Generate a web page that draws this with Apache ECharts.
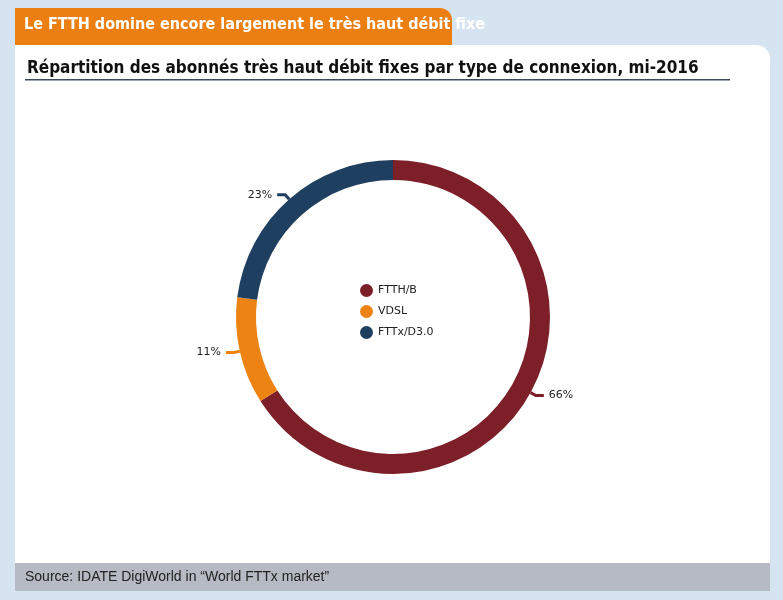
<!DOCTYPE html>
<html>
<head>
<meta charset="utf-8">
<script src="https://cdn.jsdelivr.net/npm/echarts@6/dist/echarts.min.js"></script>
<style>
  html, body { margin: 0; padding: 0; background: #d6e4f1; }
  #chart { width: 783px; height: 600px; }
</style>
</head>
<body>
<div id="chart"></div>
<script>
// données
const categories = ['FTTH/B', 'VDSL', 'FTTx/D3.0'];
const shares = [66, 11, 23];
const colors = ['#7c1f28', '#ec8312', '#1f3f60'];

const chart = echarts.init(document.getElementById('chart'));

const option = {
    backgroundColor: '#d6e4f1',
    graphic: [
        // onglet orange
        { type: 'rect', shape: { x: 15, y: 8, width: 437, height: 45, r: [0, 12, 0, 0] },
          style: { fill: '#ec7f12' } },
        { type: 'text', left: 24, top: 17,
          style: { text: 'Le FTTH domine encore largement le très haut débit fixe',
                   fill: '#fff', font: 'bold 16px "Liberation Sans Narrow", "DejaVu Sans Condensed", sans-serif' } },
        // panneau blanc
        { type: 'rect', shape: { x: 15, y: 45, width: 755, height: 520, r: [0, 14, 0, 0] },
          style: { fill: '#ffffff' } },
        { type: 'text', left: 27, top: 60,
          style: { text: 'Répartition des abonnés très haut débit fixes par type de connexion, mi-2016',
                   fill: '#111', font: 'bold 17px "Liberation Sans Narrow", "DejaVu Sans Condensed", sans-serif' } },
        { type: 'rect', shape: { x: 25, y: 79, width: 705, height: 1.5 },
          style: { fill: '#3c4a5c' } },
        // pied de page
        { type: 'rect', shape: { x: 15, y: 563, width: 755, height: 28 },
          style: { fill: '#b5bac5' } },
        { type: 'text', left: 25, top: 570,
          style: { text: 'Source: IDATE DigiWorld in “World FTTx market”',
                   fill: '#222', font: '14px "Liberation Sans", Arial, sans-serif' } }
    ],
    legend: {
        orient: 'vertical',
        left: 355,
        top: 279,
        icon: 'circle',
        itemWidth: 13,
        itemHeight: 13,
        itemGap: 8,
        textStyle: { fontSize: 11, color: '#222', fontFamily: 'DejaVu Sans' },
        data: categories
    },
    series: [{
        type: 'pie',
        center: [393, 317],
        radius: [137, 157],
        startAngle: 90,
        clockwise: true,
        silent: true,
        label: {
            show: true,
            formatter: '{d}%',
            fontSize: 11,
            color: '#222',
            fontFamily: 'DejaVu Sans'
        },
        labelLine: { show: true, length: 6, length2: 8, lineStyle: { width: 3 } },
        data: categories.map((name, i) => ({
            name, value: shares[i],
            itemStyle: { color: colors[i] },
            labelLine: { lineStyle: { color: colors[i] } }
        }))
    }]
};

chart.setOption(option);
</script>
</body>
</html>
